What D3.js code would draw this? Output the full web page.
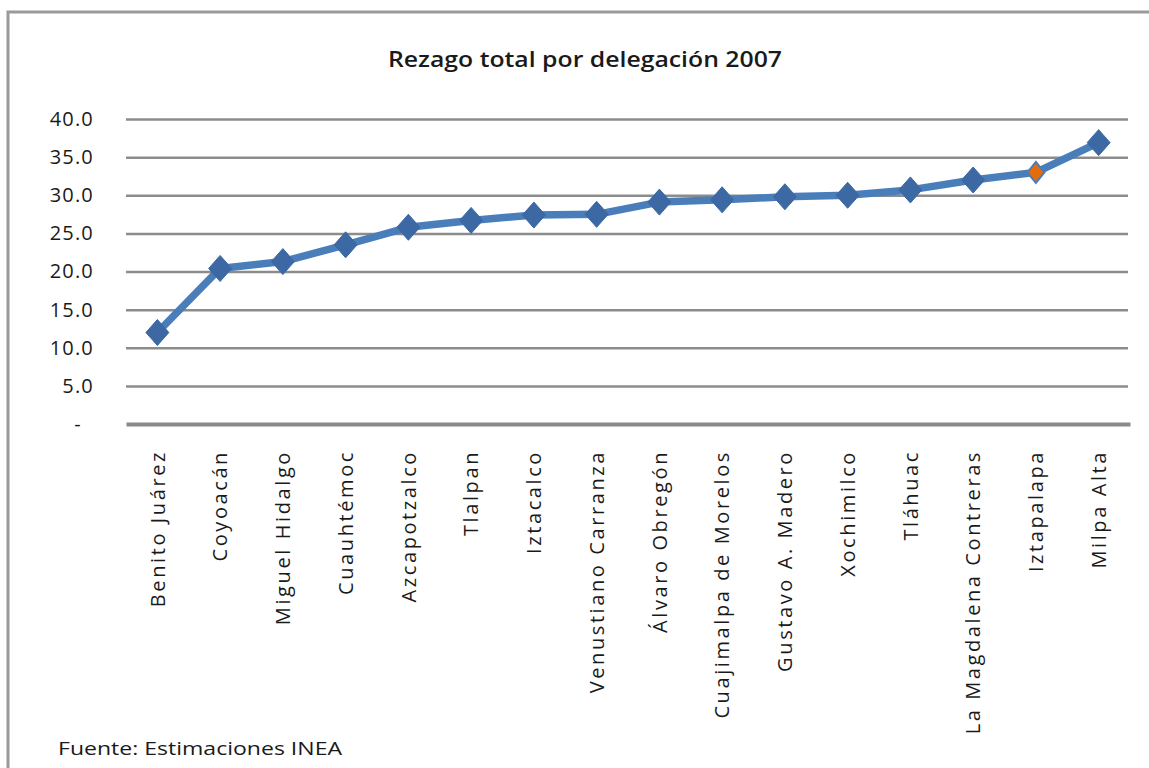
<!DOCTYPE html>
<html>
<head>
<meta charset="utf-8">
<script src="https://cdn.jsdelivr.net/npm/d3@7"></script>
<style>
  html, body { margin: 0; padding: 0; background: #fff; }
  svg { display: block; }
  text { font-family: "Open Sans", "Liberation Sans", sans-serif; fill: #1a1a1a; }
</style>
</head>
<body>
<svg id="chart" width="1149" height="768"></svg>
<script>
const title = "Rezago total por delegación 2007";
const source = "Fuente: Estimaciones INEA";
const categories = ["Benito Juárez","Coyoacán","Miguel Hidalgo","Cuauhtémoc","Azcapotzalco","Tlalpan","Iztacalco","Venustiano Carranza","Álvaro Obregón","Cuajimalpa de Morelos","Gustavo A. Madero","Xochimilco","Tláhuac","La Magdalena Contreras","Iztapalapa","Milpa Alta"];
const values = [12.0, 20.4, 21.3, 23.5, 25.8, 26.7, 27.4, 27.5, 29.1, 29.4, 29.8, 30.0, 30.7, 32.0, 33.0, 36.9];
const highlighted = ["Iztapalapa"];
const yTicks = [0, 5, 10, 15, 20, 25, 30, 35, 40];

const svg = d3.select("#chart");
const W = 1149, H = 768;
const m = {left: 126, right: 1130, top: 119, bottom: 424};

// frame
svg.append("path")
  .attr("d", `M8,${H} L8,12 L${W},12`)
  .attr("fill", "none").attr("stroke", "#9a9a9a").attr("stroke-width", 3);

const x = d3.scaleBand().domain(categories).range([m.left, m.right]);
const y = d3.scaleLinear().domain([0, 40]).range([m.bottom, m.top]);

// gridlines
const yAxis = d3.axisLeft(y).tickValues(yTicks)
  .tickSize(-(m.right - 2 - m.left))
  .tickFormat(d => d === 0 ? "-" : d3.format(".1f")(d));
const gy = svg.append("g").attr("transform", `translate(${m.left},0)`).call(yAxis);
gy.select(".domain").remove();
gy.selectAll(".tick line").attr("stroke", "#8c8c8c").attr("stroke-width", 2.5);
gy.selectAll(".tick text")
  .attr("x", d => d === 0 ? -44 : -32).attr("font-size", 20).attr("letter-spacing", 1.2)
  .attr("fill", "#222");
gy.selectAll(".tick").filter(d => d === 0).select("line").remove();

// x axis
const xAxis = d3.axisBottom(x).tickSize(0);
const gx = svg.append("g").attr("transform", `translate(0,${m.bottom})`).call(xAxis);
gx.select(".domain").attr("stroke", "#8a8a8a").attr("stroke-width", 4);
gx.selectAll(".tick text")
  .attr("transform", "rotate(-90)")
  .attr("text-anchor", "end")
  .attr("x", -26).attr("y", 0).attr("dy", "0.36em")
  .attr("font-size", 20).attr("letter-spacing", 2.6)
  .attr("fill", "#1a1a1a");

// line
const cx = d => x(d) + x.bandwidth() / 2;
const line = d3.line().x((d, i) => cx(categories[i])).y(d => y(d));
svg.append("path").datum(values)
  .attr("d", line)
  .attr("fill", "none").attr("stroke", "#4a7ebb").attr("stroke-width", 7.5)
  .attr("stroke-linejoin", "round");

// markers
const pts = categories.map((c, i) => ({c, v: values[i]}));
const diamond = (w, h) => `M0,${-h} L${w},0 L0,${h} L${-w},0 Z`;
svg.append("g").selectAll("path").data(pts).join("path")
  .attr("transform", d => `translate(${cx(d.c)},${y(d.v)})`)
  .attr("d", d => highlighted.includes(d.c) ? diamond(8.5, 10.5) : diamond(11.5, 13))
  .attr("fill", d => highlighted.includes(d.c) ? "#e46c0a" : "#3c68a3")
  .attr("stroke", d => highlighted.includes(d.c) ? "#4a7ebb" : "#3c68a3")
  .attr("stroke-width", d => highlighted.includes(d.c) ? 2 : 1);

// title
svg.append("text").attr("x", 585).attr("y", 67)
  .attr("text-anchor", "middle").attr("font-size", 22).attr("font-weight", 600)
  .attr("textLength", 394).attr("lengthAdjust", "spacingAndGlyphs")
  .text(title);

// source
svg.append("text").attr("x", 58).attr("y", 755)
  .attr("font-size", 19).attr("textLength", 284).attr("lengthAdjust", "spacingAndGlyphs")
  .attr("fill", "#222")
  .text(source);
</script>
</body>
</html>
